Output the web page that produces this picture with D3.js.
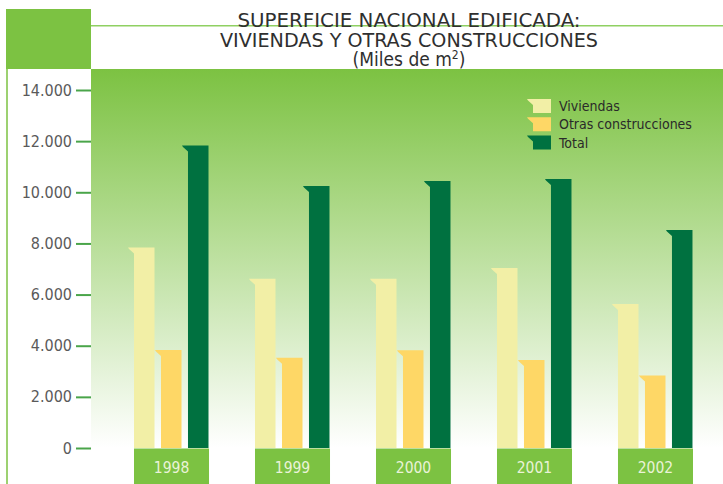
<!DOCTYPE html>
<html>
<head>
<meta charset="utf-8">
<script src="https://cdn.jsdelivr.net/npm/d3@7/dist/d3.min.js"></script>
<style>
  html, body { margin: 0; padding: 0; background: #ffffff; }
  svg { display: block; }
</style>
</head>
<body>
<svg id="chart" width="723" height="484"></svg>
<script>
// ---- data ----
const years = ["1998", "1999", "2000", "2001", "2002"];
const seriesNames = ["Viviendas", "Otras construcciones", "Total"];
const viviendas = [7840, 6620, 6620, 7040, 5630];
const otras = [3830, 3530, 3820, 3440, 2840];
const total = [11830, 10250, 10440, 10520, 8530];
const yTicks = [0, 2000, 4000, 6000, 8000, 10000, 12000, 14000];
const yTickLabels = ["0", "2.000", "4.000", "6.000", "8.000", "10.000", "12.000", "14.000"];
const titleLines = ["SUPERFICIE NACIONAL EDIFICADA:", "VIVIENDAS Y OTRAS CONSTRUCCIONES"];

const seriesValues = [viviendas, otras, total];
const colors = ["#f2efa6", "#fed766", "#007140"];
const green = "#7cc242";
const font = "'DejaVu Sans Condensed', 'DejaVu Sans', sans-serif";

const svg = d3.select("#chart");

// scales
const y = d3.scaleLinear().domain([0, 14000]).range([448, 90]);
const x0 = d3.scaleBand().domain(years).range([134, 693]).paddingInner(0.38).paddingOuter(0);
const x1 = d3.scaleBand().domain(seriesNames).range([0, 74.5]).paddingInner(0.24);

// gradient
const defs = svg.append("defs");
const grad = defs.append("linearGradient").attr("id", "bg").attr("x1", 0).attr("y1", 0).attr("x2", 0).attr("y2", 1);
grad.append("stop").attr("offset", "0%").attr("stop-color", "#7cc242");
grad.append("stop").attr("offset", "100%").attr("stop-color", "#ffffff");

// header block
svg.append("rect").attr("x", 6).attr("y", 9).attr("width", 85).attr("height", 60).attr("fill", green);
// left vertical line
svg.append("line").attr("x1", 7).attr("x2", 7).attr("y1", 69).attr("y2", 484)
  .attr("stroke", green).attr("stroke-width", 1.5);
// header horizontal line
svg.append("line").attr("x1", 91).attr("x2", 723).attr("y1", 25.7).attr("y2", 25.7)
  .attr("stroke", "#8fd062").attr("stroke-width", 1.5);

// plot background
svg.append("rect").attr("x", 91).attr("y", 69).attr("width", 632).attr("height", 379).attr("fill", "url(#bg)");

// title
svg.append("text").attr("x", 409).attr("y", 27).attr("text-anchor", "middle").attr("fill", "#2f2f2f")
  .style("font-family", font).style("font-size", "19px")
  .attr("textLength", 343).attr("lengthAdjust", "spacingAndGlyphs").text(titleLines[0]);
svg.append("text").attr("x", 409).attr("y", 47).attr("text-anchor", "middle").attr("fill", "#2f2f2f")
  .style("font-family", font).style("font-size", "19px")
  .attr("textLength", 378).attr("lengthAdjust", "spacingAndGlyphs").text(titleLines[1]);
const t3 = svg.append("text").attr("x", 409).attr("y", 66).attr("text-anchor", "middle").attr("fill", "#2f2f2f")
  .style("font-family", font).style("font-size", "19px");
t3.append("tspan").text("(Miles de m");
t3.append("tspan").attr("dy", -7).style("font-size", "12px").text("2");
t3.append("tspan").attr("dy", 7).text(")");

// y axis
const yAxis = d3.axisLeft(y).tickValues(yTicks).tickSize(15).tickPadding(4)
  .tickFormat((d, i) => yTickLabels[i]);
const gy = svg.append("g").attr("transform", "translate(91,0)").call(yAxis);
gy.select(".domain").remove();
gy.selectAll(".tick line").attr("stroke", "#4aa54a").attr("stroke-width", 2);
gy.selectAll(".tick text").attr("fill", "#5a5a5a").style("font-family", font).style("font-size", "16px");

// bars
function barPath(x, w, top, base) {
  const c = 6;
  return `M${x - c},${top} L${x + w},${top} L${x + w},${base} L${x},${base} L${x},${top + c} L${x - c + 1},${top + 1.5} Z`;
}
const groups = svg.append("g").selectAll("g").data(years).join("g")
  .attr("transform", d => `translate(${x0(d)},0)`);
groups.selectAll("path").data((d, i) => seriesNames.map((s, j) => ({ s, j, v: seriesValues[j][i] })))
  .join("path")
  .attr("d", d => barPath(x1(d.s), x1.bandwidth(), y(d.v), y(0)))
  .attr("fill", d => colors[d.j]);

// year boxes
const yb = svg.append("g").selectAll("g").data(years).join("g")
  .attr("transform", d => `translate(${x0(d)},448.5)`);
yb.append("rect").attr("width", x0.bandwidth()).attr("height", 36).attr("fill", green);
yb.append("text").attr("x", x0.bandwidth() / 2).attr("y", 24.5).attr("text-anchor", "middle")
  .attr("fill", "#eaf3d8").style("font-family", font).style("font-size", "15.5px").text(d => d);

// legend
const lg = svg.append("g").attr("transform", "translate(533,99)");
const li = lg.selectAll("g").data(seriesNames).join("g").attr("transform", (d, i) => `translate(0,${i * 18.3})`);
li.append("path").attr("d", barPath(0, 18, 0, 14)).attr("fill", (d, i) => colors[i]);
li.append("text").attr("x", 26).attr("y", 12).attr("fill", "#2a2a2a")
  .style("font-family", font).style("font-size", "14px").text(d => d);
</script>
</body>
</html>
